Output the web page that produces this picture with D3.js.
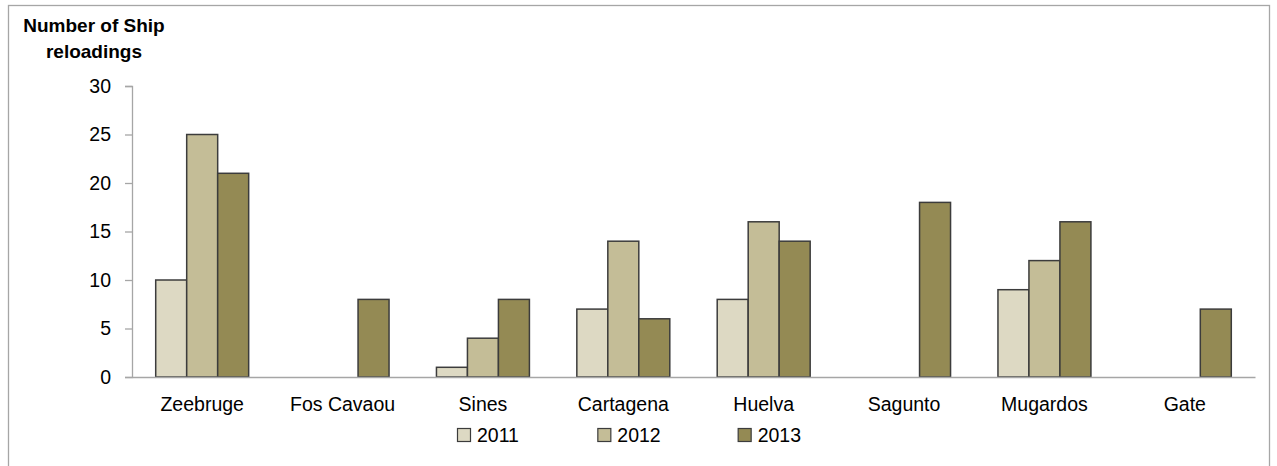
<!DOCTYPE html>
<html>
<head>
<meta charset="utf-8">
<script src="https://cdn.jsdelivr.net/npm/d3@7"></script>
<style>
  html, body { margin: 0; padding: 0; background: #fff; }
  svg { display: block; font-family: "Liberation Sans", Arial, sans-serif; }
</style>
</head>
<body>
<svg id="chart" width="1277" height="466"></svg>
<script>
// Ship reloadings per terminal, 2011-2013
const terminals = ["Zeebruge", "Fos Cavaou", "Sines", "Cartagena", "Huelva", "Sagunto", "Mugardos", "Gate"];
const years = ["2011", "2012", "2013"];
const values2011 = [10, null, 1, 7, 8, null, 9, null];
const values2012 = [25, null, 4, 14, 16, null, 12, null];
const values2013 = [21, 8, 8, 6, 14, 18, 16, 7];
const yTicks = [0, 5, 10, 15, 20, 25, 30];
const yearColors = ["#DDD9C3", "#C4BD97", "#948A54"];

const seriesValues = [values2011, values2012, values2013];

const svg = d3.select("#chart");

// outer frame
svg.append("rect")
  .attr("x", 8.5).attr("y", 5.5)
  .attr("width", 1261).attr("height", 470)
  .attr("fill", "none")
  .attr("stroke", "#A6A6A6")
  .attr("stroke-width", 1.3);

const x0 = d3.scaleBand().domain(terminals).range([132, 1255]).padding(0);
const x1 = d3.scaleBand().domain(years).range([0, x0.bandwidth()])
  .paddingInner(0).paddingOuter(0.765);
const y = d3.scaleLinear().domain([0, 30]).range([377, 86]);
const color = d3.scaleOrdinal().domain(years).range(yearColors);

// y axis
const yAxis = svg.append("g")
  .attr("transform", "translate(132,0)")
  .call(d3.axisLeft(y).tickValues(yTicks).tickSize(7).tickPadding(14));
yAxis.select(".domain").attr("stroke", "#A6A6A6").attr("stroke-width", 1.3);
yAxis.selectAll(".tick line").attr("stroke", "#A6A6A6").attr("stroke-width", 1.3);
yAxis.selectAll(".tick text")
  .attr("fill", "#000")
  .style("font-size", "19.5px")
  .style("font-family", "'Liberation Sans', Arial, sans-serif");

// bars
const groups = svg.append("g").selectAll("g")
  .data(terminals)
  .join("g")
  .attr("transform", d => `translate(${x0(d)},0)`);

groups.selectAll("rect")
  .data((t, i) => years.map((yr, k) => ({ year: yr, value: seriesValues[k][i] })).filter(d => d.value != null))
  .join("rect")
  .attr("x", d => x1(d.year))
  .attr("y", d => y(d.value))
  .attr("width", x1.bandwidth())
  .attr("height", d => y(0) - y(d.value))
  .attr("fill", d => color(d.year))
  .attr("stroke", "#3C3C3C")
  .attr("stroke-width", 1.5);

// x axis line and category labels
const xAxis = svg.append("g")
  .attr("transform", "translate(0,377)")
  .call(d3.axisBottom(x0).tickSize(0).tickPadding(20));
xAxis.select(".domain").attr("stroke", "#A6A6A6").attr("stroke-width", 1.3);
xAxis.selectAll(".tick text")
  .attr("fill", "#000")
  .style("font-size", "19.5px")
  .style("font-family", "'Liberation Sans', Arial, sans-serif");

// y axis title
const title = svg.append("text")
  .attr("x", 94).attr("y", 32)
  .attr("text-anchor", "middle")
  .style("font-size", "19px")
  .style("font-weight", "bold");
title.append("tspan").attr("x", 94).attr("y", 32).text("Number of Ship");
title.append("tspan").attr("x", 94).attr("y", 58).text("reloadings");

// legend
const legendX = d3.scaleBand().domain(years).range([457, 878]);
const legend = svg.append("g").selectAll("g")
  .data(years)
  .join("g")
  .attr("transform", d => `translate(${legendX(d)},428)`);
legend.append("rect")
  .attr("x", 0.5).attr("y", 0.5)
  .attr("width", 13).attr("height", 13)
  .attr("fill", d => color(d))
  .attr("stroke", "#3C3C3C")
  .attr("stroke-width", 1.2);
legend.append("text")
  .attr("x", 20).attr("y", 14)
  .style("font-size", "19.5px")
  .text(d => d);
</script>
</body>
</html>
